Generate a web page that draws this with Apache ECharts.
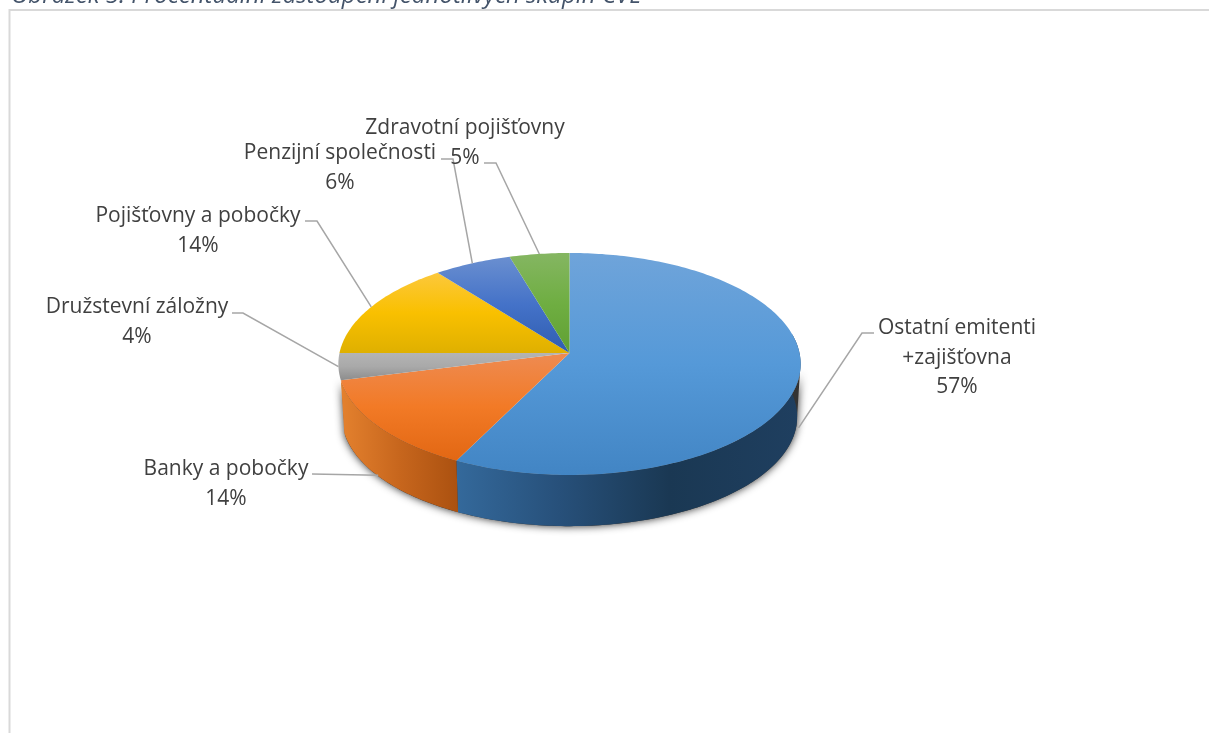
<!DOCTYPE html>
<html>
<head>
<meta charset="utf-8">
<style>html,body{margin:0;padding:0;background:#fff;overflow:hidden}#c{width:1209px;height:733px}</style>
<script src="https://cdn.jsdelivr.net/npm/echarts@6/dist/echarts.min.js"></script>
</head>
<body>
<div id="c"></div>
<script>
const titleText = 'Obrázek 5: Procentuální zastoupení jednotlivých skupin CVL';
const names = ['Ostatní emitenti\n+zajišťovna','Banky a pobočky','Družstevní záložny','Pojišťovny a pobočky','Penzijní společnosti','Zdravotní pojišťovny'];
const shares = [57.4,13.7,3.9,14.4,6.0,4.6];

// slice styles: [top light, top mid, top dark]
const topColors = [
  ['#6fa4da','#5599d8','#4285c4'],
  ['#ee8b52','#f27a26','#e26713'],
  ['#b4b4b4','#a9a9a9','#8c8c8c'],
  ['#fcc83c','#f9c000','#dfb000'],
  ['#6a8fd0','#4472c8','#2f5db0'],
  ['#85b662','#6fae42','#60a032']
];
// only the two front slices show a side wall
const wallColors = [
  [[0,'#34699b'],[0.3,'#27507a'],[0.62,'#1a3853'],[1,'#1f3f60']],
  [[0,'#e4812e'],[0.5,'#c7661d'],[1,'#ab5110']]
];
// label layout: centre x, first-line y, knee point, end of leader next to the text
const labelLayout = [
  {x:957,y:328.5,knee:[862,333],end:[874,333]},
  {x:226,y:469.5,knee:[312,474],end:[312,474]},
  {x:137,y:307.5,knee:[243,313],end:[232,313]},
  {x:198,y:216.5,knee:[317,221],end:[305,221]},
  {x:340,y:153.5,knee:[453,159],end:[441,159]},
  {x:465,y:128.5,knee:[496,163],end:[484,163]}
];
const LABEL_FONT = '"Open Sans"';
const CX=569.5, CY=353, A=230, B=109.9, K=-0.099, DEPTH=53, BOTTOM_SCALE=0.985, ANCHOR_DROP=49;

function project(deg, scale, dy){
  const t = deg*Math.PI/180, s=scale||1;
  const x = Math.sin(t), y = -Math.cos(t), d = 1+K*y;
  return [CX + s*A*x/d, CY + s*B*y/d + (dy||0)];
}
function arc(a0,a1,scale,dy){
  const pts=[], n=Math.max(2,Math.ceil(Math.abs(a1-a0)));
  for(let i=0;i<=n;i++) pts.push(project(a0+(a1-a0)*i/n,scale,dy));
  return pts;
}
const total = shares.reduce((a,b)=>a+b,0);
function range(i){
  let s=0; for(let j=0;j<i;j++) s+=shares[j];
  return [s/total*360,(s+shares[i])/total*360];
}
function wallPolygon(a0,a1){
  return arc(a0,a1).concat(arc(a0,a1,BOTTOM_SCALE,DEPTH).reverse());
}
function renderWall(params){
  const i=params.dataIndex, r=range(i), children=[];
  if(i===0){
    children.push({type:'polygon',shape:{points:wallPolygon(100,range(1)[1]-1)},
      style:{fill:'#333',shadowBlur:9,shadowColor:'rgba(0,0,0,0.85)'}});
  }
  if(i<wallColors.length){
    const a0=Math.max(r[0],80), a1=r[1];
    children.push({type:'polygon',shape:{points:wallPolygon(a0,a1)},
      style:{fill:{type:'linear',x:0,y:0,x2:1,y2:0,colorStops:wallColors[i].map(c=>({offset:c[0],color:c[1]}))}}});
  }
  return {type:'group',children};
}
function renderTop(params){
  const i=params.dataIndex, r=range(i), c=topColors[i];
  return {type:'polygon',shape:{points:[[CX,CY]].concat(arc(r[0],r[1]))},
    style:{fill:{type:'linear',x:0,y:0,x2:0,y2:1,colorStops:[{offset:0,color:c[0]},{offset:0.5,color:c[1]},{offset:1,color:c[2]}]}}};
}
const LINE_H=29.5;
function renderLabel(params,api){
  const i=params.dataIndex, r=range(i), mid=(r[0]+r[1])/2, L=labelLayout[i];
  const front=-Math.cos(mid*Math.PI/180)>0.2;
  const anchor=project(mid,1,front?ANCHOR_DROP:0);
  const pct=Math.round(api.value(0)/total*100)+'%';
  const lines=names[i].split('\n').length+1;
  return {type:'group',children:[
    {type:'polyline',shape:{points:[anchor,L.knee,L.end]},style:{fill:null,stroke:'#a6a6a6',lineWidth:1.5}},
    {type:'text',x:L.x,y:L.y-LINE_H/2+lines*LINE_H/2,style:{text:names[i]+'\n'+pct,align:'center',verticalAlign:'middle',
      fill:'#404040',fontSize:21,lineHeight:LINE_H,fontFamily:LABEL_FONT}}
  ]};
}

const chart = echarts.init(document.getElementById('c'),null,{renderer:'canvas'});
const data = shares.map((v,i)=>({name:names[i],value:[v]}));
chart.setOption({
  animation:false,
  backgroundColor:'#ffffff',
  graphic:[
    {type:'rect',silent:true,shape:{x:9.5,y:10,width:1400,height:900},style:{fill:'#fff',stroke:'#d9d9d9',lineWidth:2}},
    {type:'text',silent:true,x:11,y:8,style:{text:titleText,fill:'#44546a',fontSize:24,fontStyle:'italic',fontFamily:LABEL_FONT,verticalAlign:'bottom'}}
  ],
  series:[
    {type:'custom',coordinateSystem:'none',silent:true,z:2,renderItem:renderWall,data:data},
    {type:'custom',coordinateSystem:'none',silent:true,z:3,renderItem:renderTop,data:data},
    {type:'custom',coordinateSystem:'none',silent:true,z:4,renderItem:renderLabel,data:data}
  ]
});
</script>
</body>
</html>
